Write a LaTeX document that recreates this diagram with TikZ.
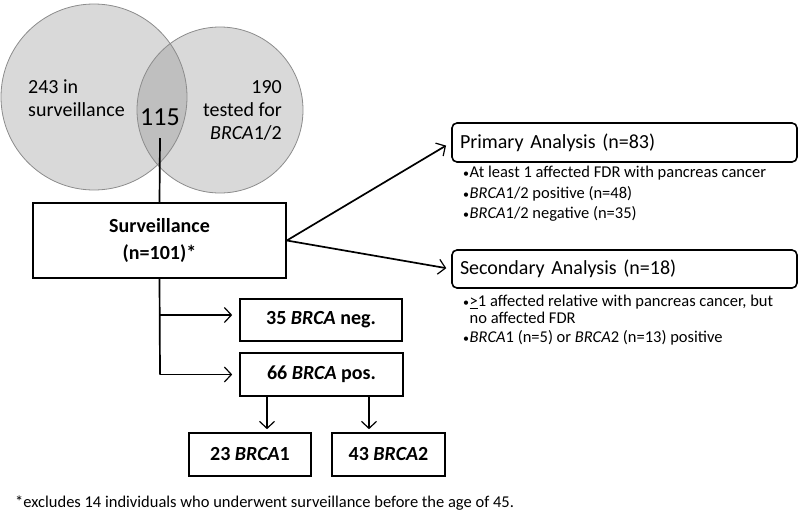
\documentclass[tikz,border=0pt]{standalone}
\usepackage{fontspec}
\setmainfont{Carlito}
\usetikzlibrary{arrows.meta,calc}
\newcommand{\bul}{\makebox[6.5pt][l]{\fontsize{12}{12}\selectfont •}}
\begin{document}
\begin{tikzpicture}[x=1pt,y=-1pt,
  box/.style={draw, line width=1.6pt, inner sep=0pt, align=center},
  rbox/.style={draw, line width=1.6pt, rounded corners=5pt, inner ysep=0pt, inner xsep=8pt, align=left},
  ln/.style={line width=1.7pt},
  arr/.style={line width=1.7pt, -{Straight Barb[length=7pt,width=15pt,line width=1.2pt]}},
  t20/.style={font=\fontsize{20}{23}\selectfont},
  tb20/.style={font=\fontsize{20}{27}\selectfont\bfseries},
  t16/.style={font=\fontsize{16.5}{15}\selectfont, inner sep=0pt, anchor=west},
  vfill/.style={fill=black!15},
  vdraw/.style={draw=black!45, line width=0.8pt}
]
\useasboundingbox (0,0) rectangle (800,517);

% Venn circles
\fill[vfill] (94,97) circle (93);
\fill[vfill] (220,110) circle (83);
\begin{scope}
  \clip (94,97) circle (93);
  \fill[black!25] (220,110) circle (83);
\end{scope}
\draw[vdraw] (94,97) circle (93);
\draw[vdraw] (220,110) circle (83);

\node[t20, anchor=west, align=left, inner sep=0pt] (lt) at (28,98.5) {243 in\\surveillance};
\node[t20, anchor=east, align=right, inner sep=0pt] (rt) at (282,110) {190\\tested for\\\textit{BRCA}1/2};
\node[font=\fontsize{26}{28}\selectfont, inner sep=0pt] (n115) at (160,117) {115};
\coordinate (c115) at (160,138);

% main boxes
\node[box, tb20, minimum width=253pt, minimum height=75pt] (surv) at (159.5,240.5) {Surveillance\\(n=101)*};
\node[box, tb20, minimum width=162pt, minimum height=42pt] (neg) at (321,320) {35 \textbf{\textit{BRCA}} neg.};
\node[box, tb20, minimum width=163pt, minimum height=43pt] (pos) at (321.5,374.5) {66 \textbf{\textit{BRCA}} pos.};
\node[box, tb20, minimum width=122pt, minimum height=43pt] (b1) at (250,454.5) {23 \textbf{\textit{BRCA}}1};
\node[box, tb20, minimum width=113pt, minimum height=43pt] (b2) at (388.5,454.5) {43 \textbf{\textit{BRCA}}2};

\draw[ln] (c115) -- (surv.north);
\coordinate (j1) at (160,315);
\coordinate (j2) at (160,374.5);
\draw[ln] (surv.south) -- (j2);
\draw[arr, shorten >=7pt] (j1) -- (j1 -| neg.west);
\draw[arr, shorten >=7pt] (j2) -- (pos.west);

\coordinate (d1) at (267,0);
\coordinate (d2) at (369,0);
\draw[arr, shorten >=3pt] (pos.south -| d1) -- (b1.north -| d1);
\draw[arr, shorten >=3pt] (pos.south -| d2) -- (b2.north -| d2);

% analyses
\node[rbox, t20, text width=329pt, minimum height=39pt] (prim) at (624.5,142.5) {Primary Analysis (n=83)};
\node[rbox, t20, text width=329pt, minimum height=38pt] (sec) at (624.5,269) {Secondary Analysis (n=18)};
\draw[arr, shorten >=6pt] (surv.east) -- (prim.west);
\draw[arr, shorten >=5pt] (surv.east) -- (sec.west);

\node[t16] (p1) at (463,173) {\bul At least 1 affected FDR with pancreas cancer};
\node[t16] (p2) at (463,193.5) {\bul\textit{BRCA}1/2 positive (n=48)};
\node[t16] (p3) at (463,214) {\bul\textit{BRCA}1/2 negative (n=35)};

\node[t16] (s1) at (463,302) {\bul\underline{>}1 affected relative with pancreas cancer, but};
\node[t16] (s1b) at (469.5,317.5) {no affected FDR};
\node[t16] (s2) at (463,338) {\bul\textit{BRCA}1 (n=5) or \textit{BRCA}2 (n=13) positive};

\node[t16] (fn) at (15,503) {*excludes 14 individuals who underwent surveillance before the age of 45.};
\end{tikzpicture}
\end{document}
